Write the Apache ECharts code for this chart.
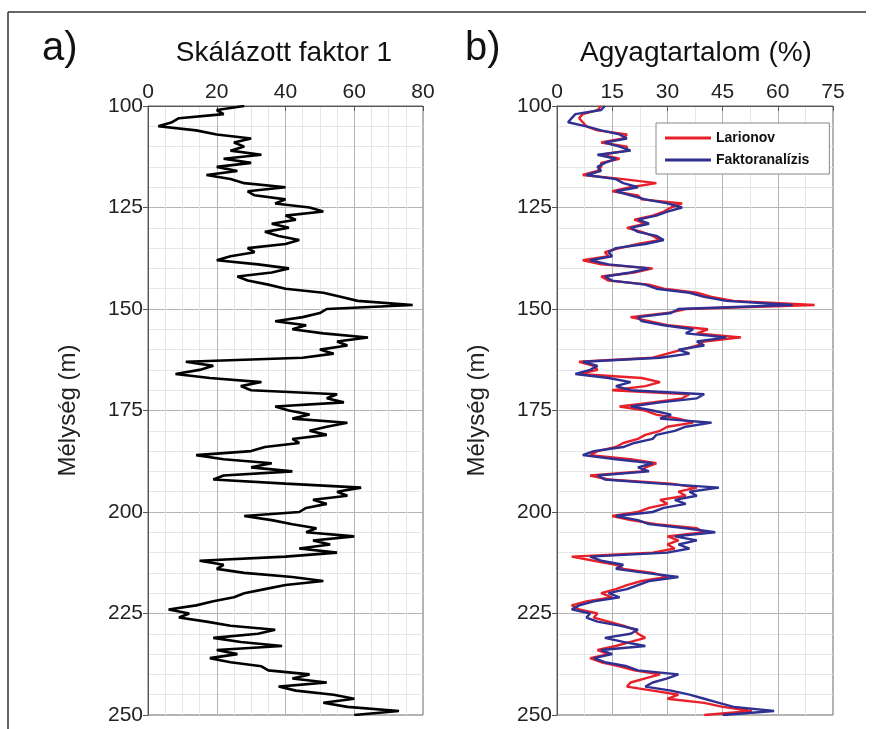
<!DOCTYPE html>
<html>
<head>
<meta charset="utf-8">
<script src="https://cdn.jsdelivr.net/npm/echarts@6/dist/echarts.min.js"></script>
<style>
html,body{margin:0;padding:0;background:#fff;}
#chart{width:872px;height:729px;}
</style>
</head>
<body>
<div id="chart"></div>
<script>
// Depths 100..250 m, 1 m step
var depthStart = 100;
var depthTicks = [100, 125, 150, 175, 200, 225, 250];
var factorTicks = [0, 20, 40, 60, 80];
var clayTicks = [0, 15, 30, 45, 60, 75];

var factor1 = [
  28,20,22,9,7,3,14,20,30,25,
  28,24,33,22,30,20,26,17,24,28,
  40,29,31,40,37,47,51,40,43,36,
  41,34,38,44,40,29,31,24,20,32,
  41,36,26,29,35,40,51,56,61,77,
  52,50,45,37,46,42,51,64,55,58,
  50,54,45,11,19,15,8,18,33,27,
  30,55,52,57,37,41,47,42,58,52,
  47,52,42,44,34,30,14,22,36,30,
  42,22,19,40,62,55,58,48,52,46,
  44,28,36,42,49,46,60,48,53,44,
  55,40,15,22,20,28,42,51,40,34,
  28,25,19,14,6,12,9,17,24,37,
  32,19,27,39,20,26,18,24,33,35,
  47,42,52,38,43,54,60,51,58,73,
  60
];

var larionov = [
  12,11,7,6,7,8,11,19,18,12,
  19,19,12,17,12,12,11,7,18,27,
  20,15,22,23,34,31,29,26,21,24,
  19,23,26,28,22,17,13,14,7,12,
  26,21,12,14,25,29,38,42,48,70,
  35,30,20,25,30,41,38,50,40,38,
  34,30,26,6,10,11,6,23,28,24,
  15,36,34,26,17,24,27,33,37,30,
  28,24,22,18,16,11,9,20,27,24,
  23,9,14,31,38,33,35,28,30,25,
  22,15,20,27,38,40,30,33,30,32,
  26,4,10,16,18,26,30,23,19,16,
  12,15,8,4,6,11,10,14,18,21,
  22,24,20,16,11,14,9,12,17,21,
  28,24,20,19,26,33,30,40,45,53,
  40
];

var faktoranalizis = [
  13,12,5,4,3,8,12,17,19,13,
  17,20,11,16,13,11,12,8,16,18,
  22,16,20,24,30,34,30,27,22,25,
  20,22,27,29,24,16,14,15,9,14,
  25,20,13,15,24,27,36,40,46,64,
  33,31,22,23,29,37,35,46,38,40,
  33,36,28,7,11,9,5,14,20,16,
  20,40,38,28,20,26,31,28,42,35,
  32,27,26,21,18,10,7,16,26,22,
  25,11,13,28,44,36,38,32,35,29,
  26,16,22,25,35,43,32,38,33,36,
  30,9,12,18,16,24,33,25,22,19,
  14,17,10,6,4,9,8,11,17,22,
  20,13,18,24,12,15,10,13,19,22,
  33,30,26,24,31,36,40,44,48,59,
  45
];

function pairs(arr) {
  return arr.map(function (v, i) { return [v, depthStart + i]; });
}

var FONT = '"Liberation Sans", Arial, sans-serif';
var chart = echarts.init(document.getElementById('chart'), null, {renderer: 'canvas'});

function xAxisCfg(grid, ticks, minorSplit) {
  return {
    gridIndex: grid,
    type: 'value',
    position: 'top',
    min: ticks[0],
    max: ticks[ticks.length - 1],
    interval: ticks[1] - ticks[0],
    axisLine: {show: true, lineStyle: {color: '#555', width: 1}},
    axisTick: {show: true, inside: true, length: 5, lineStyle: {color: '#555'}},
    axisLabel: {fontSize: 21, color: '#222', fontFamily: FONT, margin: 3},
    splitLine: {show: true, lineStyle: {color: '#b4b4b4', width: 1}},
    minorTick: {show: false, splitNumber: minorSplit},
    minorSplitLine: {show: true, lineStyle: {color: '#e6e6e6', width: 1}}
  };
}

function yAxisCfg(grid) {
  return {
    gridIndex: grid,
    type: 'value',
    inverse: true,
    min: depthTicks[0],
    max: depthTicks[depthTicks.length - 1],
    interval: depthTicks[1] - depthTicks[0],
    name: 'Mélység (m)',
    nameLocation: 'middle',
    nameRotate: 90,
    nameGap: 68,
    nameTextStyle: {fontSize: 24, color: '#222', fontFamily: FONT},
    axisLine: {show: true, lineStyle: {color: '#555', width: 1}},
    axisTick: {show: true, inside: false, length: 5, lineStyle: {color: '#555'}},
    axisLabel: {fontSize: 21, color: '#222', fontFamily: FONT, margin: 5},
    splitLine: {show: true, lineStyle: {color: '#b4b4b4', width: 1}},
    minorTick: {show: false, splitNumber: 5},
    minorSplitLine: {show: true, lineStyle: {color: '#e6e6e6', width: 1}}
  };
}

var option = {
  backgroundColor: '#fff',
  animation: false,
  grid: [
    {left: 148, top: 106, width: 275, height: 609, show: true, borderColor: '#666', borderWidth: 1, backgroundColor: 'transparent'},
    {left: 557, top: 106, width: 276, height: 609, show: true, borderColor: '#666', borderWidth: 1, backgroundColor: 'transparent'}
  ],
  xAxis: [xAxisCfg(0, factorTicks, 4), xAxisCfg(1, clayTicks, 2)],
  yAxis: [yAxisCfg(0), yAxisCfg(1)],
  legend: {
    data: ['Larionov', 'Faktoranalízis'],
    orient: 'vertical',
    left: 656,
    top: 123,
    padding: [8, 20, 7, 9],
    itemGap: 8,
    itemWidth: 46,
    itemHeight: 3,
    icon: 'rect',
    backgroundColor: '#fff',
    borderColor: '#888',
    borderWidth: 1,
    borderRadius: 0,
    textStyle: {fontSize: 14, fontWeight: 'bold', color: '#111', fontFamily: FONT}
  },
  graphic: [
    {type: 'line', shape: {x1: 8, y1: 12, x2: 866, y2: 12}, style: {stroke: '#333', lineWidth: 1.5}},
    {type: 'line', shape: {x1: 8, y1: 12, x2: 8, y2: 729}, style: {stroke: '#333', lineWidth: 1.5}},
    {type: 'text', x: 42, y: 49, style: {text: 'a)', font: '40px ' + FONT, fill: '#111', textVerticalAlign: 'middle'}},
    {type: 'text', x: 284, y: 53, style: {text: 'Skálázott faktor 1', font: '28px ' + FONT, fill: '#111', textAlign: 'center', textVerticalAlign: 'middle'}},
    {type: 'text', x: 465, y: 49, style: {text: 'b)', font: '40px ' + FONT, fill: '#111', textVerticalAlign: 'middle'}},
    {type: 'text', x: 696, y: 53, style: {text: 'Agyagtartalom (%)', font: '28px ' + FONT, fill: '#111', textAlign: 'center', textVerticalAlign: 'middle'}}
  ],
  series: [
    {name: 'Skálázott faktor 1', type: 'line', xAxisIndex: 0, yAxisIndex: 0, data: pairs(factor1),
     showSymbol: false, symbol: 'none', lineStyle: {color: '#000', width: 2.6}, itemStyle: {color: '#000'}},
    {name: 'Larionov', type: 'line', xAxisIndex: 1, yAxisIndex: 1, data: pairs(larionov),
     showSymbol: false, symbol: 'none', lineStyle: {color: '#e8202a', width: 2.4}, itemStyle: {color: '#e8202a'}},
    {name: 'Faktoranalízis', type: 'line', xAxisIndex: 1, yAxisIndex: 1, data: pairs(faktoranalizis),
     showSymbol: false, symbol: 'none', lineStyle: {color: '#2e3192', width: 2.4}, itemStyle: {color: '#2e3192'}}
  ]
};
chart.setOption(option);
</script>
</body>
</html>
